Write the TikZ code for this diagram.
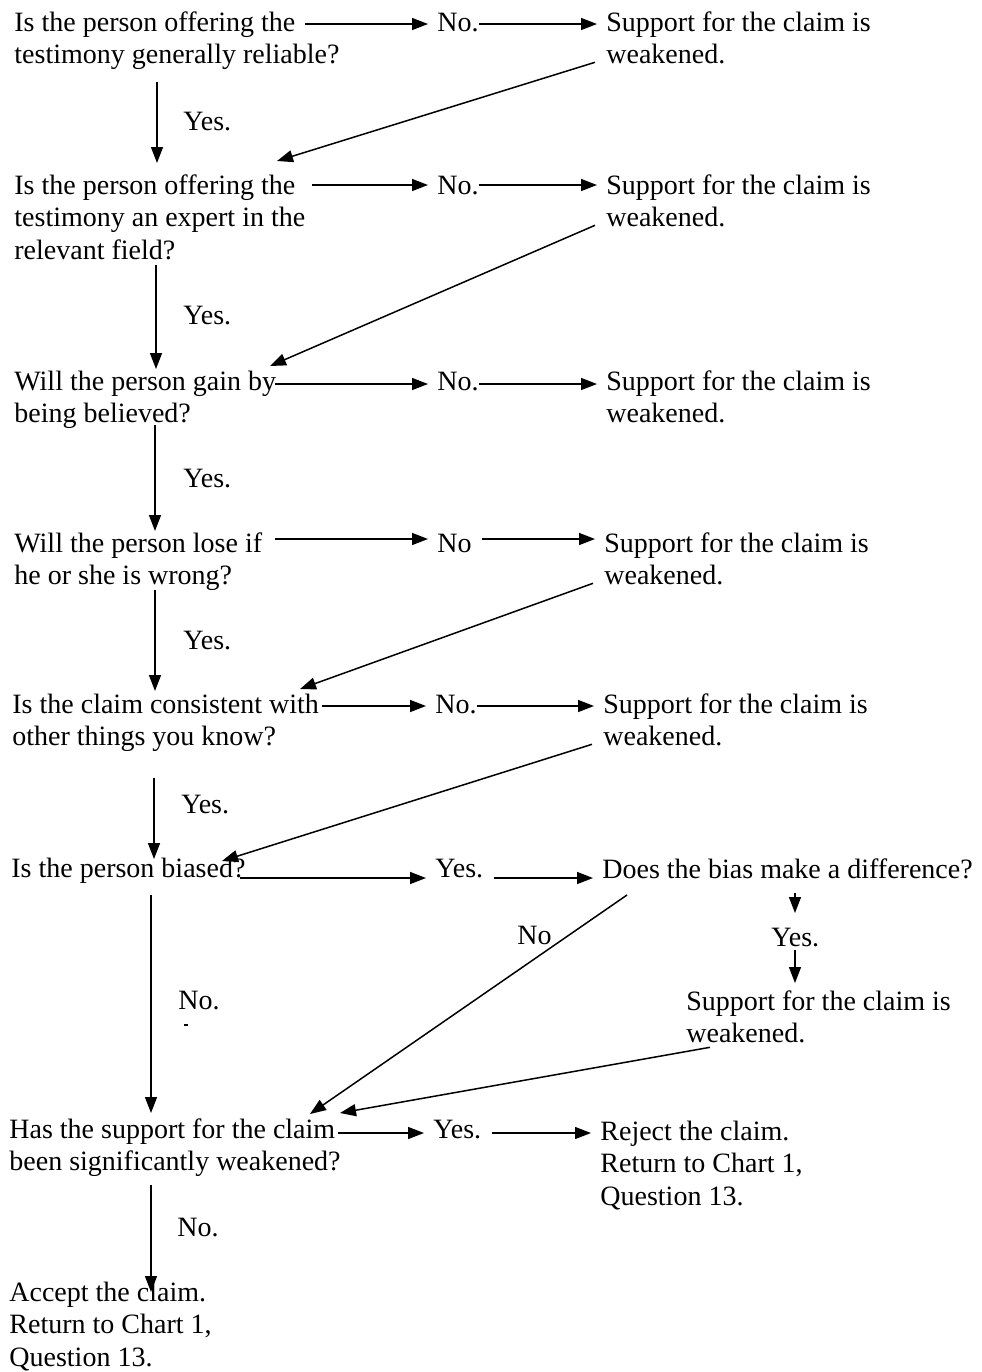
\documentclass[tikz,border=0pt]{standalone}
\usepackage{fontspec}
\setmainfont{Liberation Serif}
\usetikzlibrary{arrows.meta}
\begin{document}
\begin{tikzpicture}[x=0.5pt,y=-0.5pt,
  txt/.style={anchor=base west,inner sep=0pt,align=left,font=\fontsize{14}{16.25}\selectfont},
  arr/.style={draw,line width=0.75pt,-{Triangle[length=8pt,width=6pt]}},
  gap/.style={shorten >=4.5pt}]
\useasboundingbox[fill=white] (0,0) rectangle (981,1372);
% texts (base = baseline of the last line)
\node[txt] (q1) at (14,63.5) {Is the person offering the\\testimony generally reliable?};
\node[txt] (n1) at (437,31) {No.};
\node[txt] (s1) at (606,63.5) {Support for the claim is\\weakened.};
\node[txt] (y1) at (183,130) {Yes.};
\node[txt] (q2) at (14,259) {Is the person offering the\\testimony an expert in the\\relevant field?};
\node[txt] (n2) at (437,194) {No.};
\node[txt] (s2) at (606,226.5) {Support for the claim is\\weakened.};
\node[txt] (y2) at (183,324) {Yes.};
\node[txt] (q3) at (14,422.5) {Will the person gain by\\being believed?};
\node[txt] (n3) at (437,390) {No.};
\node[txt] (s3) at (606,422.5) {Support for the claim is\\weakened.};
\node[txt] (y3) at (183,487) {Yes.};
\node[txt] (q4) at (14,584.5) {Will the person lose if\\he or she is wrong?};
\node[txt] (n4) at (437,552) {No};
\node[txt] (s4) at (604,584.5) {Support for the claim is\\weakened.};
\node[txt] (y4) at (183,649) {Yes.};
\node[txt] (q5) at (12,745.5) {Is the claim consistent with\\other things you know?};
\node[txt] (n5) at (435,713) {No.};
\node[txt] (s5) at (603,745.5) {Support for the claim is\\weakened.};
\node[txt] (y5) at (181,813) {Yes.};
\node[txt] (q6) at (11,877) {Is the person biased?};
\node[txt] (y6) at (435,877) {Yes.};
\node[txt] (d6) at (602,878) {Does the bias make a difference?};
\node[txt] (no6) at (517,944) {No};
\node[txt] (yd) at (771,946) {Yes.};
\node[txt] (sd) at (686,1042.5) {Support for the claim is\\weakened.};
\node[txt] (n6) at (178,1009) {No.};
\node[txt] (q7) at (9,1170.5) {Has the support for the claim\\been significantly weakened?};
\node[txt] (y7) at (433,1138) {Yes.};
\node[txt] (r7) at (600,1205) {Reject the claim.\\Return to Chart 1,\\Question 13.};
\node[txt] (n7) at (177,1236) {No.};
\node[txt] (acc) at (9,1366) {Accept the claim.\\Return to Chart 1,\\Question 13.};
% horizontal arrows
\coordinate (h1) at (305,24);
\draw[arr,gap] (h1) -- (h1 -| n1.west);
\draw[arr,gap] (h1 -| n1.east) -- (h1 -| s1.west);
\coordinate (h2) at (312,185);
\draw[arr,gap] (h2) -- (h2 -| n2.west);
\draw[arr,gap] (h2 -| n2.east) -- (h2 -| s2.west);
\coordinate (h3) at (275,384);
\draw[arr,gap] (h3) -- (h3 -| n3.west);
\draw[arr,gap] (h3 -| n3.east) -- (h3 -| s3.west);
\coordinate (h4) at (275,539);
\draw[arr,gap] (h4) -- (h4 -| n4.west);
\draw[arr,gap] ([xshift=5pt]h4 -| n4.east) -- (h4 -| s4.west);
\coordinate (h5) at (322,706);
\draw[arr,gap] (h5) -- (h5 -| n5.west);
\draw[arr,gap] (h5 -| n5.east) -- (h5 -| s5.west);
\coordinate (h6) at (240,878);
\draw[arr,gap] (h6) -- (h6 -| y6.west);
\draw[arr,gap] ([xshift=5pt]h6 -| y6.east) -- (h6 -| d6.west);
\coordinate (h7) at (338,1133);
\draw[arr,gap] (h7) -- (h7 -| y7.west);
\draw[arr,gap] ([xshift=5pt]h7 -| y7.east) -- (h7 -| r7.west);
% vertical arrows
\coordinate (v1) at (157,82);  \coordinate (w1) at (157,163);
\coordinate (v2) at (156,265); \coordinate (w2) at (156,369);
\coordinate (v3) at (155,425); \coordinate (w3) at (155,531);
\coordinate (v4) at (155,590); \coordinate (w4) at (155,691);
\coordinate (v5) at (154,778); \coordinate (w5) at (154,859);
\coordinate (v6) at (151,895); \coordinate (w6) at (151,1113);
\coordinate (v7) at (151,1185); \coordinate (w7) at (151,1292);
\draw[arr] (v1) -- (w1);
\draw[arr] (v2) -- (w2);
\draw[arr] (v3) -- (w3);
\draw[arr] (v4) -- (w4);
\draw[arr] (v5) -- (w5);
\draw[arr] (v6) -- (w6);
\draw[arr] (v7) -- (w7);
% diagonal return arrows
\coordinate (e1) at (277,161);
\coordinate (e2) at (270,366);
\coordinate (e4) at (300,689);
\coordinate (e5) at (222,861);
\coordinate (e6) at (310,1114);
\coordinate (e7) at (340,1113);
\draw[arr] ([xshift=-5.5pt,yshift=1pt]s1.south west) -- (e1);
\draw[arr] ([xshift=-5.5pt,yshift=1pt]s2.south west) -- (e2);
\draw[arr] ([xshift=-5.5pt,yshift=1pt]s4.south west) -- (e4);
\draw[arr] ([xshift=-5.5pt,yshift=1pt]s5.south west) -- (e5);
\coordinate (d6s) at (627,895);
\draw[arr] (d6s) -- (e6);
\draw[arr] ([xshift=12pt,yshift=-2pt]sd.south west) -- (e7);
% bias-difference branch
\coordinate (b1) at (795,893); \coordinate (b2) at (795,913);
\coordinate (b3) at (795,950); \coordinate (b4) at (795,983);
\draw[arr] (b1) -- (b2);
\draw[arr] (b3) -- (b4);
% stray mark
\draw[line width=1.2pt] (184,1025) -- (188,1025);
\end{tikzpicture}
\end{document}
